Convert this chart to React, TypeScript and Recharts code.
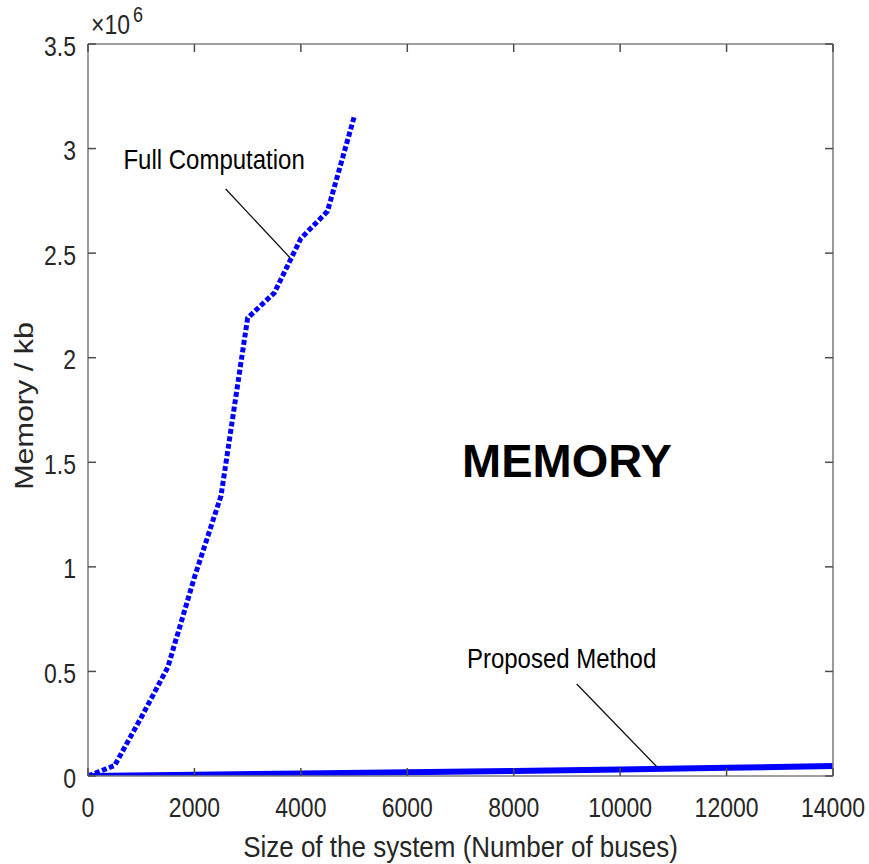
import React from 'react';
import { LineChart, Line, XAxis, YAxis, ReferenceLine, ReferenceDot } from 'recharts';

// ---- data ----
const fullSizes = [0, 500, 1000, 1500, 2000, 2500, 3000, 3500, 4000, 4500, 5000];
const fullMemory = [0, 50000, 280000, 520000, 950000, 1340000, 2190000, 2310000, 2570000, 2700000, 3150000];
const proposedSizes = [0, 2000, 4000, 6000, 8000, 10000, 12000, 14000];
const proposedMemory = [0, 6000, 12000, 18000, 24000, 31000, 39000, 48000];
const xTicks = [0, 2000, 4000, 6000, 8000, 10000, 12000, 14000];
const yTicks = [0, 500000, 1000000, 1500000, 2000000, 2500000, 3000000, 3500000];

const fullLabel = 'Full Computation';
const proposedLabel = 'Proposed Method';
const titleText = 'MEMORY';
const xLabel = 'Size of the system (Number of buses)';
const yLabel = 'Memory / kb';

const fullData = fullSizes.map((x, i) => ({ x, y: fullMemory[i] }));
const proposedData = proposedSizes.map((x, i) => ({ x, y: proposedMemory[i] }));

const FONT = '"Liberation Sans", Arial, Helvetica, sans-serif';
const AXIS = '#808080';
const TICK = '#4d4d4d';
const TXT = '#262626';

const fmtY = (v: number) => String(Math.round((v / 1e6) * 10) / 10);

const LeftTick = (p: any) => (
  <g>
    <line x1={p.x} y1={p.y} x2={p.x + 8} y2={p.y} stroke={TICK} strokeWidth={1.5} />
    <g transform={`translate(${p.x - 12},${p.y + 11.5}) scale(1,1.22)`}>
      <text x={0} y={0} textAnchor="end" fontSize={23} fontFamily={FONT} fill={TXT}>
        {fmtY(p.payload.value)}
      </text>
    </g>
  </g>
);

const RightTick = (p: any) => (
  <line x1={p.x} y1={p.y} x2={p.x - 8} y2={p.y} stroke={TICK} strokeWidth={1.5} />
);

const BottomTick = (p: any) => (
  <g>
    <line x1={p.x} y1={p.y} x2={p.x} y2={p.y - 8} stroke={TICK} strokeWidth={1.5} />
    <g transform={`translate(${p.x},${p.y + 40.7}) scale(1,1.22)`}>
      <text x={0} y={0} textAnchor="middle" fontSize={23} fontFamily={FONT} fill={TXT}>
        {String(p.payload.value)}
      </text>
    </g>
  </g>
);

const TopTick = (p: any) => (
  <line x1={p.x} y1={p.y} x2={p.x} y2={p.y + 8} stroke={TICK} strokeWidth={1.5} />
);

const XLabel = (p: any) => {
  const vb = p.viewBox;
  const cx = vb.x + vb.width / 2;
  return (
    <g transform={`translate(${cx},${vb.y + 80.7}) scale(1,1.17)`}>
      <text x={0} y={0} textAnchor="middle" fontSize={26} fontFamily={FONT} fill={TXT}>
        {xLabel}
      </text>
    </g>
  );
};

const YLabel = (p: any) => {
  const vb = p.viewBox;
  const left = vb.x + vb.width;
  const top = vb.y;
  const cy = vb.y + vb.height / 2 - 4;
  return (
    <g>
      <g transform={`translate(${left - 55.3},${cy}) rotate(-90) scale(1.22,1)`}>
        <text x={0} y={0} textAnchor="middle" fontSize={25} fontFamily={FONT} fill={TXT}>
          {yLabel}
        </text>
      </g>
      <g transform={`translate(${left + 3},${top - 10.5}) scale(1,1.2)`}>
        <text x={0} y={0} fontSize={23} fontFamily={FONT} fill={TXT}>
          ×10
        </text>
      </g>
      <g transform={`translate(${left + 45},${top - 22.5}) scale(1,1.2)`}>
        <text x={0} y={0} fontSize={18} fontFamily={FONT} fill={TXT}>
          6
        </text>
      </g>
    </g>
  );
};

const makeNote = (text: string, size: number, bold: boolean, sy: number) => (p: any) => {
  const vb = p.viewBox;
  const cx = vb.x + vb.width / 2;
  const cy = vb.y + vb.height / 2;
  return (
    <g transform={`translate(${cx},${cy}) scale(1,${sy})`}>
      <text x={0} y={0} textAnchor="middle" fontSize={size} fontWeight={bold ? 'bold' : 'normal'} fontFamily={FONT} fill="#000">
        {text}
      </text>
    </g>
  );
};

export default function App() {
  return (
    <div style={{ position: 'absolute', left: 0, top: 0, width: 869, height: 864, background: '#fff' }}>
      <LineChart width={869} height={864} margin={{ top: 43, right: 35, bottom: 48, left: 28 }}>
        <XAxis
          xAxisId="bottom"
          type="number"
          dataKey="x"
          domain={[0, 14000]}
          ticks={xTicks}
          interval={0}
          height={40}
          tickSize={0}
          tickMargin={0}
          tickLine={false}
          axisLine={{ stroke: AXIS, strokeWidth: 1.6 }}
          tick={(p: any) => <BottomTick {...p} />}
          label={(p: any) => <XLabel {...p} />}
          allowDataOverflow
        />
        <XAxis
          xAxisId="top"
          orientation="top"
          type="number"
          dataKey="x"
          domain={[0, 14000]}
          ticks={xTicks}
          interval={0}
          height={1}
          tickSize={0}
          tickMargin={0}
          tickLine={false}
          axisLine={{ stroke: AXIS, strokeWidth: 1.6 }}
          tick={(p: any) => <TopTick {...p} />}
          allowDataOverflow
        />
        <YAxis
          yAxisId="left"
          type="number"
          domain={[0, 3500000]}
          ticks={yTicks}
          interval={0}
          width={60}
          tickSize={0}
          tickMargin={0}
          tickLine={false}
          axisLine={{ stroke: AXIS, strokeWidth: 1.6 }}
          tick={(p: any) => <LeftTick {...p} />}
          label={(p: any) => <YLabel {...p} />}
          allowDataOverflow
        />
        <YAxis
          yAxisId="right"
          orientation="right"
          type="number"
          domain={[0, 3500000]}
          ticks={yTicks}
          interval={0}
          width={1}
          tickSize={0}
          tickMargin={0}
          tickLine={false}
          axisLine={{ stroke: AXIS, strokeWidth: 1.6 }}
          tick={(p: any) => <RightTick {...p} />}
          allowDataOverflow
        />
        <Line
          xAxisId="bottom"
          yAxisId="left"
          data={fullData}
          dataKey="y"
          type="linear"
          stroke="#0000FF"
          strokeWidth={5}
          strokeDasharray="5 2.5"
          dot={false}
          activeDot={false}
          isAnimationActive={false}
        />
        <Line
          xAxisId="bottom"
          yAxisId="left"
          data={proposedData}
          dataKey="y"
          type="linear"
          stroke="#0000FF"
          strokeWidth={6}
          dot={false}
          activeDot={false}
          isAnimationActive={false}
        />
        <ReferenceLine
          xAxisId="bottom"
          yAxisId="left"
          segment={[{ x: 2588, y: 2807000 }, { x: 3796, y: 2478000 }]}
          stroke="#111"
          strokeWidth={1.3}
        />
        <ReferenceLine
          xAxisId="bottom"
          yAxisId="left"
          segment={[{ x: 9184, y: 440000 }, { x: 10688, y: 44500 }]}
          stroke="#111"
          strokeWidth={1.3}
        />
        <ReferenceDot
          xAxisId="bottom"
          yAxisId="left"
          x={2370}
          y={2900000}
          r={0.01}
          fill="none"
          stroke="none"
          label={makeNote(fullLabel, 24, false, 1.18)}
        />
        <ReferenceDot
          xAxisId="bottom"
          yAxisId="left"
          x={8900}
          y={515000}
          r={0.01}
          fill="none"
          stroke="none"
          label={makeNote(proposedLabel, 24, false, 1.18)}
        />
        <ReferenceDot
          xAxisId="bottom"
          yAxisId="left"
          x={9000}
          y={1430000}
          r={0.01}
          fill="none"
          stroke="none"
          label={makeNote(titleText, 47, true, 1)}
        />
      </LineChart>
    </div>
  );
}
